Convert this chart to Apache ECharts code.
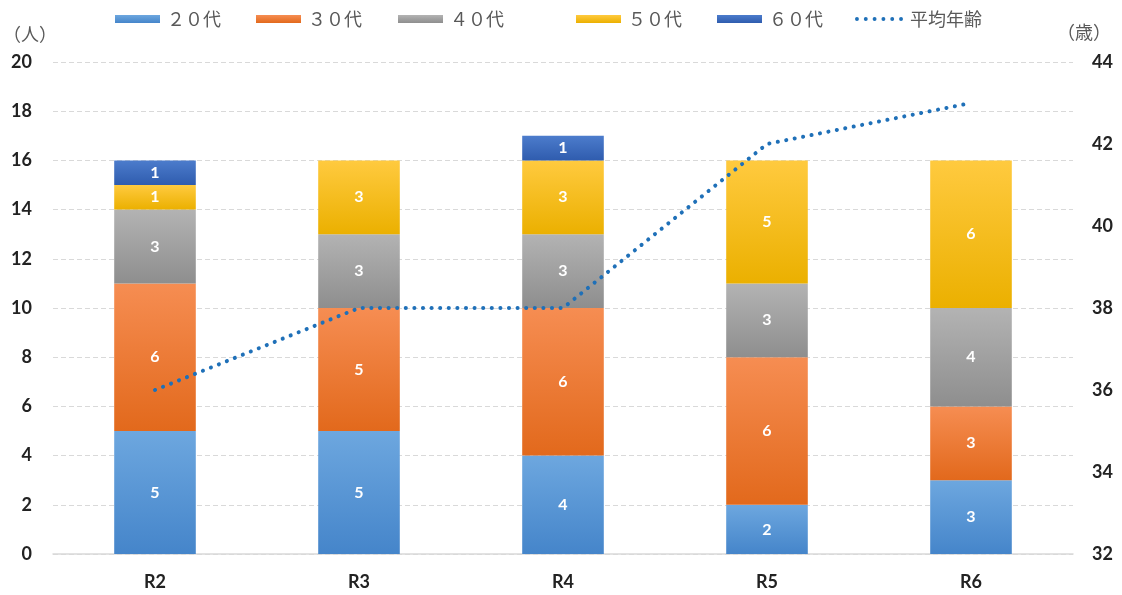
<!DOCTYPE html>
<html><head><meta charset="utf-8">
<script src="https://cdn.jsdelivr.net/npm/echarts@6/dist/echarts.min.js"></script>
<style>html,body{margin:0;padding:0;background:#fff}#c{width:1122px;height:595px}</style>
</head><body><div id="c"></div>
<script>
const categories = ['R2','R3','R4','R5','R6'];
const s20 = [5,5,4,2,3];
const s30 = [6,5,6,6,3];
const s40 = [3,3,3,3,4];
const s50 = [1,3,3,5,6];
const s60 = [1,'-',1,'-','-'];
const avgAge = [36,38,38,42,43];
const leftTicks = {min:0,max:20,interval:2};
const rightTicks = {min:32,max:44,interval:2};
const names = ['２０代','３０代','４０代','５０代','６０代','平均年齢'];

const grads = [
  ['#6DA7DF','#4585CA','#5B9BD5'],
  ['#F68D52','#E2691C','#ED7D31'],
  ['#B3B3B3','#8E8E8E','#A5A5A5'],
  ['#FFCA3F','#EBB000','#FFC000'],
  ['#4C7CCC','#2F5CAE','#4472C4']
];
function grad(g){return new echarts.graphic.LinearGradient(0,0,0,1,[{offset:0,color:g[0]},{offset:1,color:g[1]}]);}
const barData=[s20,s30,s40,s50,s60];
const numFont='Lato, "Noto Sans", sans-serif';
const series = barData.map((d,i)=>({
  name:names[i], type:'bar', stack:'a', data:d, barWidth:'40%',
  itemStyle:{color:grad(grads[i])},
  label:{show:true,color:'#fff',fontFamily:numFont,fontWeight:'bold',fontSize:16},
  emphasis:{disabled:true}
}));
const lineColor='#1F70B8';
series.push({name:names[5],type:'line',yAxisIndex:1,data:avgAge,symbol:'none',
  lineStyle:{color:lineColor,width:4,type:[0.1,8.5],cap:'round'},itemStyle:{color:lineColor}});

// six dots icon for the legend
let dotPath='path://';
for(let k=0;k<6;k++){const cx=2+k*9;dotPath+=`M${cx-2},2a2,2 0 1,0 4,0a2,2 0 1,0 -4,0Z`;}

const legendX=[110,251,393,571,712,850];
const legends = names.map((n,i)=>({
  data:[i===5?{name:n,icon:dotPath,itemStyle:{color:lineColor}}:{name:n,icon:'rect'}],
  left:legendX[i], top:5, itemWidth:i===5?48:45, itemHeight:i===5?4:8, itemGap:0,
  textStyle:{fontFamily:'"Noto Sans CJK JP"',fontSize:18,color:'#595959',padding:[0,0,0,2]},
  selectedMode:false
}));

const chart=echarts.init(document.getElementById('c'));
chart.setOption({
  animation:false,
  legend:legends,
  grid:{left:53,right:49,top:62,bottom:41},
  xAxis:{type:'category',data:categories,
    axisLine:{lineStyle:{color:'#D9D9D9',width:1.5}},axisTick:{show:false},
    axisLabel:{fontFamily:numFont,fontWeight:'bold',fontSize:18,color:'#222',margin:19}},
  yAxis:[
    {type:'value',min:leftTicks.min,max:leftTicks.max,interval:leftTicks.interval,
     name:'（人）',nameLocation:'end',nameGap:19,nameTextStyle:{fontFamily:'"Noto Sans CJK JP"',fontSize:18,color:'#595959',align:'left',padding:[0,0,0,-50]},
     axisLabel:{fontFamily:numFont,fontWeight:'bold',fontSize:18,color:'#222',margin:21},
     splitLine:{lineStyle:{color:'#D9D9D9',type:[5,3]}},axisLine:{show:false},axisTick:{show:false}},
    {type:'value',min:rightTicks.min,max:rightTicks.max,interval:rightTicks.interval,
     name:'（歳）',nameLocation:'end',nameGap:21,nameTextStyle:{fontFamily:'"Noto Sans CJK JP"',fontSize:18,color:'#595959',align:'left',padding:[0,0,0,-16]},
     axisLabel:{fontFamily:numFont,fontWeight:'bold',fontSize:18,color:'#222',margin:19},
     splitLine:{show:false},axisLine:{show:false},axisTick:{show:false}}
  ],
  series:series
});
</script></body></html>
